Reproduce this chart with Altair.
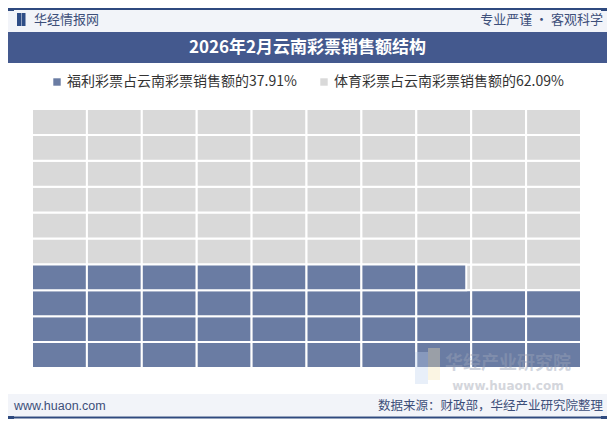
import altair as alt
import pandas as pd

# ---- data ----
categories = ["福利彩票", "体育彩票"]
shares = [37.91, 62.09]
legend_labels = [f"{c}占云南彩票销售额的{s:.2f}%" for c, s in zip(categories, shares)]
colors = ["#6a7ca3", "#d9d9d9"]
n_cols = 10
n_rows = 10

title_text = "2026年2月云南彩票销售额结构"
brand_text = "华经情报网"
slogan_text = "专业严谨 • 客观科学"
site_text = "www.huaon.com"
source_text = "数据来源：财政部，华经产业研究院整理"
wm_text1 = "华经产业研究院"
wm_text2 = "www.huaon.com"

W, H = 599, 411
CJK = "Noto Sans CJK SC"

# background cells (all 100, gray category)
bg_rows = []
for i in range(n_cols * n_rows):
    r, c = divmod(i, n_cols)
    bg_rows.append({"col": c, "col2": c + 1, "row": r, "row2": r + 1, "cat": legend_labels[1]})
bg = pd.DataFrame(bg_rows)

# foreground cells (blue, filled bottom-up, left-to-right; last one partial)
fg_rows = []
remaining = shares[0]
i = 0
while remaining > 0:
    r, c = divmod(i, n_cols)
    frac = min(1.0, remaining)
    fg_rows.append({"col": c, "col2": c + frac, "row": r, "row2": r + 1, "cat": legend_labels[0]})
    remaining -= 1
    i += 1
fg = pd.DataFrame(fg_rows)

xs = alt.Scale(domain=[0, n_cols], range=[24, 573])
ys = alt.Scale(domain=[0, n_rows], range=[360, 101])
cs = alt.Scale(domain=legend_labels, range=colors)

legend = alt.Legend(
    orient="none", legendX=42, legendY=67, direction="horizontal", title=None,
    symbolType="square", symbolSize=55, symbolStrokeWidth=0,
    labelFont=CJK, labelFontSize=14, labelColor="#333333", labelLimit=400,
    columnPadding=20, symbolOffset=0, labelOffset=3,
)

def cells(df):
    return alt.Chart(df).mark_rect(stroke="white", strokeWidth=2).encode(
        x=alt.X("col:Q", scale=xs, axis=None),
        x2="col2:Q",
        y=alt.Y("row:Q", scale=ys, axis=None),
        y2="row2:Q",
        color=alt.Color("cat:N", scale=cs, legend=legend),
    )

one = alt.Data(values=[{"a": 1}])

def band(x1, x2, y1, y2, color, opacity=1.0):
    return alt.Chart(one).mark_rect(color=color, opacity=opacity).encode(
        x=alt.value(x1), x2=alt.value(x2), y=alt.value(y1), y2=alt.value(y2)
    )

def txt(text, x, y, size, color, align="left", weight="normal", font=CJK, opacity=1.0):
    return alt.Chart(one).mark_text(
        text=text, align=align, baseline="middle", fontSize=size, color=color,
        fontWeight=weight, font=font, opacity=opacity,
    ).encode(x=alt.value(x), y=alt.value(y))

dark = "#2f4a7f"
layers = [
    # header
    band(0, W, 2, 24, "#f2f4f9"),
    band(0, W, 0, 2, dark),
    band(0, 6, -0.5, 3, dark),
    band(W - 6, W, -0.5, 3, dark),
    band(9, 13, 5, 18, "#2e4d86"),
    band(13.5, 17.5, 5, 18, "#2e4d86"),
    txt(brand_text, 26, 12, 13, "#3d4f7a"),
    txt(slogan_text, 595, 12, 13, "#3d4f7a", align="right"),
    band(0, W, 24, 55, "#44598e"),
    txt(title_text, W / 2, 40, 17, "white", align="center", weight="bold"),
    # waffle
    cells(bg),
    cells(fg),
    # watermark
    band(407, 420, 344, 376, "#bcd0ee", 0.35),
    band(420, 432, 340, 372, "#f3e3b0", 0.35),
    txt(wm_text1, 500, 356, 18, "#9aa3b8", align="center", weight="bold", opacity=0.45),
    txt(wm_text2, 500, 378, 12, "#b8bcc6", align="center", weight="bold",
        font="DejaVu Sans", opacity=0.6),
    # footer
    band(0, W, 386, 408, "#f2f4f9"),
    band(0, W, 408.5, 410.5, dark),
    band(0, 6, 408, 411, dark),
    band(W - 6, W, 408, 411, dark),
    txt(site_text, 6, 398, 12.5, "#3d4f7a", font="Liberation Sans"),
    txt(source_text, 595, 398, 12.5, "#3d4f7a", align="right"),
]

chart = alt.layer(*layers).properties(
    width=W, height=H, autosize=alt.AutoSizeParams(type="none"), padding=0,
    background="white",
).configure_view(stroke=None)

chart.save("out.html", embed_options={"renderer": "svg", "actions": False})
